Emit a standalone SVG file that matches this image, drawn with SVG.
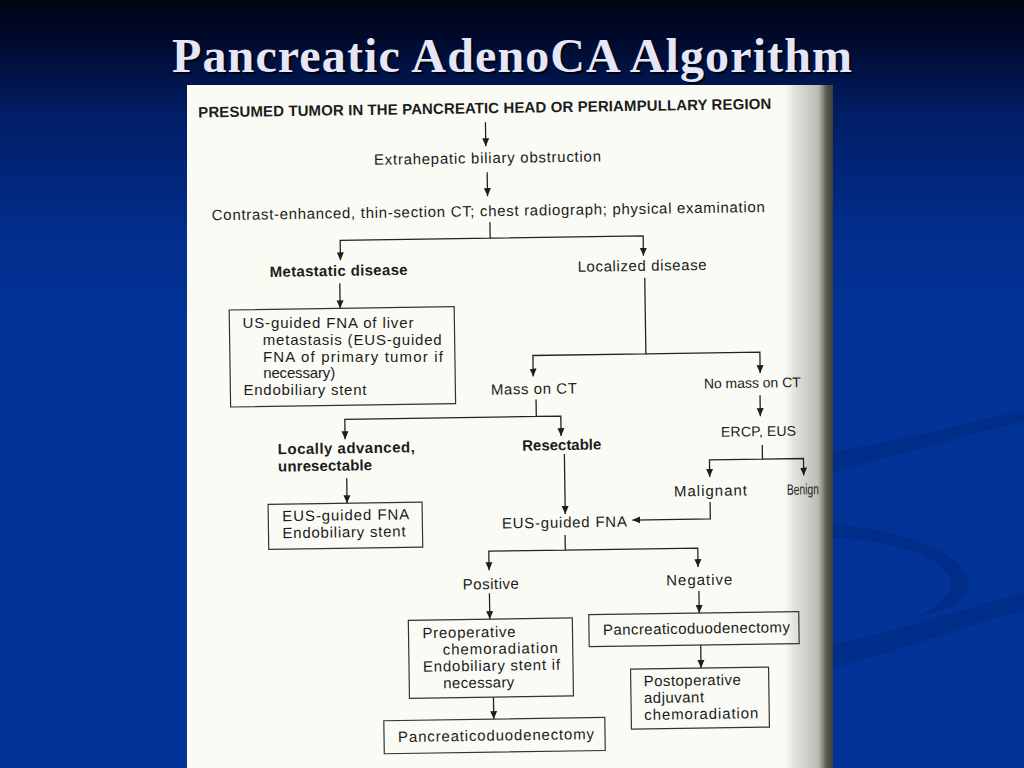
<svg xmlns="http://www.w3.org/2000/svg" width="1024" height="768" viewBox="0 0 1024 768">
<defs>
<linearGradient id="bg" x1="0" y1="0" x2="0" y2="1">
<stop offset="0" stop-color="#000414"/>
<stop offset="0.05" stop-color="#000a2c"/>
<stop offset="0.15" stop-color="#011e66"/>
<stop offset="0.3" stop-color="#022d8c"/>
<stop offset="0.42" stop-color="#023498"/>
<stop offset="1" stop-color="#023498"/>
</linearGradient>
<linearGradient id="edge" x1="0" y1="0" x2="1" y2="0">
<stop offset="0" stop-color="#fafaf4" stop-opacity="0"/>
<stop offset="0.25" stop-color="#e4e4de"/>
<stop offset="0.5" stop-color="#d0d0ca"/>
<stop offset="0.72" stop-color="#bcbcb4"/>
<stop offset="0.8" stop-color="#8e8e84"/>
<stop offset="0.87" stop-color="#5c5c52"/>
<stop offset="1" stop-color="#3e3e36"/>
</linearGradient>
<marker id="ah" markerUnits="userSpaceOnUse" markerWidth="8" markerHeight="8" refX="8" refY="4" orient="auto">
<path d="M0,0.5 L8,4 L0,7.5 z" fill="#1e1e1e"/>
</marker>
<style>
.t{font-family:"Liberation Sans",Arial,sans-serif;font-size:15px;fill:#1c1c1c}
.b{font-weight:bold}
.s{font-size:14px}
.box{fill:none;stroke:#333;stroke-width:1.2}
.c{fill:none;stroke:#222;stroke-width:1.3;marker-end:url(#ah)}
.sw{fill:#00287e;opacity:0.55}
</style>
</defs>
<rect width="1024" height="768" fill="url(#bg)"/>
<g id="swooshes">
<path class="sw" d="M833,452 C900,440 960,425 1024,410 L1024,422 C960,436 900,455 833,472 Z"/>
<path class="sw" d="M833,524 C900,530 960,550 968,580 C972,600 945,612 918,616 C940,605 955,592 950,578 C940,555 890,540 833,538 Z"/>
<path class="sw" d="M833,645 C900,630 960,610 1024,592 L1024,610 C960,628 900,650 833,668 Z"/>
</g>
<g id="title">
<text x="514" y="74" text-anchor="middle" font-family="'Liberation Serif','Times New Roman',serif" font-size="48" font-weight="bold" textLength="680" fill="#000" opacity="0.7">Pancreatic AdenoCA Algorithm</text>
<text x="512" y="72" text-anchor="middle" font-family="'Liberation Serif','Times New Roman',serif" font-size="48" font-weight="bold" textLength="680" fill="#e6e6f6">Pancreatic AdenoCA Algorithm</text>
</g>
<g id="page">
<rect x="187" y="85" width="646" height="683" fill="#fbfbf5"/>
<rect x="780" y="85" width="53" height="683" fill="url(#edge)"/>
</g>
<g id="diagram" transform="rotate(-0.85 500 430)">
<g id="connectors">
<path class="c" d="M490,122 V146"/>
<path class="c" d="M491,172 V196"/>
<path class="c" d="M493,222 V238 H343 V258"/>
<path class="c" d="M493,238 H646 V258"/>
<path class="c" d="M342,281 V306"/>
<path class="c" d="M647,280 V356 H534 V377"/>
<path class="c" d="M647,356 H761 V377"/>
<path class="c" d="M536.5,400 V417 H345 V437"/>
<path class="c" d="M536.5,417 H561 V437"/>
<path class="c" d="M760.5,399 V420"/>
<path class="c" d="M762,449 V463 H709 V480"/>
<path class="c" d="M762,463 H803 V480"/>
<path class="c" d="M346,476 V501"/>
<path class="c" d="M564,455 V515"/>
<path class="c" d="M709,505 V522 H631"/>
<path class="c" d="M563.5,536 V551 H487 V570"/>
<path class="c" d="M563.5,551 H696 V570"/>
<path class="c" d="M487,593 V619"/>
<path class="c" d="M696.5,594 V616"/>
<path class="c" d="M697.5,648 V671"/>
<path class="c" d="M489.5,697 V719"/>
</g>
<g id="n-presumed"><text class="t b" x="203" y="113" textLength="573">PRESUMED TUMOR IN THE PANCREATIC HEAD OR PERIAMPULLARY REGION</text></g>
<g id="n-extrahepatic"><text class="t" x="378" y="163" textLength="227">Extrahepatic biliary obstruction</text></g>
<g id="n-contrast"><text class="t" x="215" y="216" textLength="553">Contrast-enhanced, thin-section CT; chest radiograph; physical examination</text></g>
<g id="n-metastatic"><text class="t b" x="272" y="273.5" textLength="138">Metastatic disease</text></g>
<g id="n-localized"><text class="t" x="580" y="273" textLength="129">Localized disease</text></g>
<g id="n-usfna">
<rect class="box" x="231" y="306" width="225" height="97"/>
<text class="t" x="244" y="324.5" textLength="171" transform="rotate(0.85 244 324.5)">US-guided FNA of liver</text>
<text class="t" x="264" y="341.3" textLength="179" transform="rotate(0.85 264 341.3)">metastasis (EUS-guided</text>
<text class="t" x="264" y="358.1" textLength="180" transform="rotate(0.85 264 358.1)">FNA of primary tumor if</text>
<text class="t" x="264" y="374.9" textLength="72" transform="rotate(0.85 264 374.9)">necessary)</text>
<text class="t" x="244" y="391.7" textLength="123" transform="rotate(0.85 244 391.7)">Endobiliary stent</text>
</g>
<g id="n-mass"><text class="t" x="491.5" y="394.5" textLength="86">Mass on CT</text></g>
<g id="n-nomass"><text class="t s" x="704.5" y="391.5" textLength="97">No mass on CT</text></g>
<g id="n-locally">
<text class="t b" x="277.5" y="451" textLength="137">Locally advanced,</text>
<text class="t b" x="277.5" y="468.3" textLength="94">unresectable</text>
</g>
<g id="n-resectable"><text class="t b" x="522" y="451" textLength="79">Resectable</text></g>
<g id="n-ercp"><text class="t s" x="721" y="440" textLength="75">ERCP, EUS</text></g>
<g id="n-malignant"><text class="t" x="673" y="499" textLength="73">Malignant</text></g>
<g id="n-benign"><text class="t" x="786" y="499" font-size="14" textLength="32" lengthAdjust="spacingAndGlyphs">Benign</text></g>
<g id="n-eusbox">
<rect class="box" x="267" y="501" width="154" height="45"/>
<text class="t" x="281" y="518" textLength="127">EUS-guided FNA</text>
<text class="t" x="281" y="535" textLength="123">Endobiliary stent</text>
</g>
<g id="n-eusfna"><text class="t" x="500.5" y="528.5" textLength="125">EUS-guided FNA</text></g>
<g id="n-positive"><text class="t" x="460.5" y="589" textLength="56">Positive</text></g>
<g id="n-negative"><text class="t" x="664" y="588" textLength="66">Negative</text></g>
<g id="n-preop">
<rect class="box" x="405.5" y="619" width="164" height="78"/>
<text class="t" x="419.5" y="637" textLength="93">Preoperative</text>
<text class="t" x="439.5" y="653.8" textLength="115">chemoradiation</text>
<text class="t" x="419.5" y="670.6" textLength="137">Endobiliary stent if</text>
<text class="t" x="439.5" y="687.4" textLength="71">necessary</text>
</g>
<g id="n-pd-right">
<rect class="box" x="586" y="616" width="210" height="32"/>
<text class="t" x="600" y="636.5" textLength="187">Pancreaticoduodenectomy</text>
</g>
<g id="n-postop">
<rect class="box" x="627" y="671" width="138" height="60"/>
<text class="t" x="640" y="688.4" textLength="97">Postoperative</text>
<text class="t" x="640" y="705.2" textLength="60">adjuvant</text>
<text class="t" x="640" y="722" textLength="114">chemoradiation</text>
</g>
<g id="n-pd-bottom">
<rect class="box" x="379.5" y="719" width="221" height="33"/>
<text class="t" x="393.5" y="740.5" textLength="196">Pancreaticoduodenectomy</text>
</g>
</g>
</svg>
